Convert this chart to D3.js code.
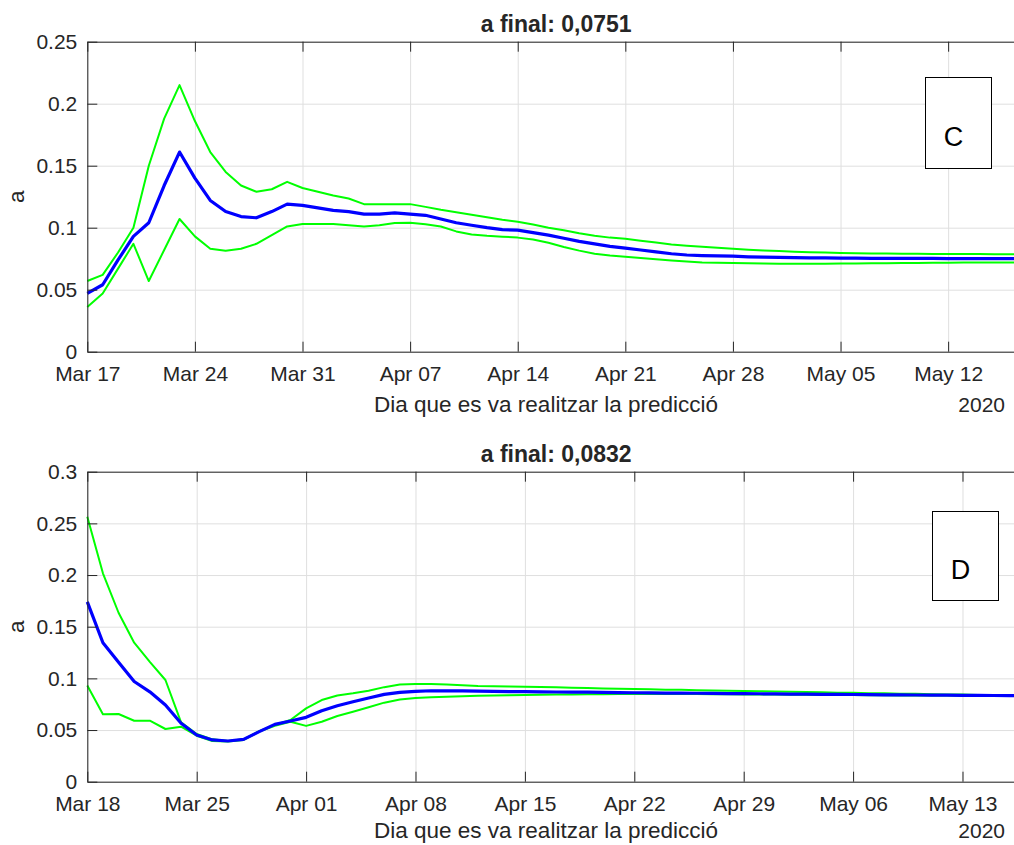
<!DOCTYPE html>
<html>
<head>
<meta charset="utf-8">
<script src="https://cdn.jsdelivr.net/npm/d3@7"></script>
<style>
  body { margin: 0; background: #fff; }
  text { font-family: "Liberation Sans", Arial, Helvetica, sans-serif; fill: #262626; }
</style>
</head>
<body>
<div id="chart"></div>
<script>
// ---- panel C (top) ----
var startC = "2020-03-17";
var endC = "2020-05-17";
var valueC = [0.047,0.054,0.074,0.093,0.104,0.134,0.161,0.140,0.122,0.113,
              0.109,0.108,0.113,0.119,0.118,0.116,0.114,0.113,0.111,0.111,
              0.112,0.111,0.110,0.107,0.104,0.102,0.100,0.0985,0.098,0.096,
              0.094,0.0915,0.089,0.087,0.085,0.0835,0.082,0.0805,0.079,0.078,
              0.0775,0.0772,0.077,0.0765,0.0762,0.076,0.0758,0.0757,0.0756,0.0755,
              0.0754,0.0753,0.0753,0.0752,0.0752,0.0752,0.0751,0.0751,0.0751,0.0751,
              0.0751,0.0751];
var upperC = [0.057,0.062,0.080,0.100,0.150,0.188,0.215,0.186,0.161,0.145,
              0.134,0.129,0.131,0.137,0.132,0.129,0.126,0.1235,0.119,0.119,
              0.119,0.119,0.1168,0.1145,0.1125,0.1105,0.1085,0.1065,0.1048,0.1025,
              0.100,0.098,0.0955,0.0935,0.092,0.091,0.0895,0.088,0.0865,0.0855,
              0.0847,0.0838,0.083,0.0823,0.0817,0.0812,0.0807,0.0803,0.0799,0.0796,
              0.0794,0.0792,0.0791,0.079,0.0789,0.0788,0.0788,0.0787,0.0787,0.0786,
              0.0786,0.0785];
var lowerC = [0.036,0.047,0.067,0.087,0.057,0.082,0.107,0.093,0.083,0.0815,
              0.083,0.087,0.094,0.101,0.103,0.103,0.103,0.102,0.101,0.102,
              0.1038,0.104,0.1028,0.101,0.097,0.0945,0.0935,0.0928,0.092,0.0905,
              0.0878,0.0845,0.0815,0.079,0.0775,0.0765,0.0755,0.0745,0.0735,0.0727,
              0.072,0.0717,0.0715,0.0713,0.0711,0.071,0.071,0.071,0.071,0.0711,
              0.0712,0.0713,0.0714,0.0715,0.0716,0.0717,0.0718,0.0719,0.072,0.072,
              0.072,0.072];
var xTicksC = ["2020-03-17","2020-03-24","2020-03-31","2020-04-07","2020-04-14",
               "2020-04-21","2020-04-28","2020-05-05","2020-05-12"];
var xLabelsC = ["Mar 17","Mar 24","Mar 31","Apr 07","Apr 14","Apr 21","Apr 28","May 05","May 12"];
var yTicksC = [0, 0.05, 0.1, 0.15, 0.2, 0.25];
var yLabelsC = ["0","0.05","0.1","0.15","0.2","0.25"];
var titleC = "a final: 0,0751";

// ---- panel D (bottom) ----
var startD = "2020-03-18";
var endD = "2020-05-17";
var valueD = [0.174,0.1345,0.1155,0.097,0.087,0.0742,0.0565,0.0452,0.0404,0.0394,
              0.041,0.0484,0.0555,0.0587,0.0623,0.0687,0.0735,0.0774,0.081,0.0845,
              0.0865,0.0875,0.088,0.0879,0.0878,0.0876,0.0874,0.0872,0.0871,0.0869,
              0.0868,0.0867,0.0866,0.0864,0.0862,0.0861,0.0859,0.0858,0.0857,0.0856,
              0.0855,0.0853,0.0852,0.0851,0.085,0.0848,0.0847,0.0846,0.0845,0.0844,
              0.0842,0.0841,0.084,0.0839,0.0838,0.0837,0.0836,0.0835,0.0834,0.0833,
              0.0832];
var upperD = [0.2565,0.2017,0.1635,0.1345,0.116,0.0984,0.0575,0.0462,0.041,0.0395,
              0.041,0.049,0.055,0.0597,0.071,0.079,0.0835,0.0855,0.088,0.0915,
              0.094,0.0945,0.0945,0.094,0.0933,0.0926,0.0923,0.0921,0.0919,0.0916,
              0.0913,0.091,0.0907,0.0903,0.090,0.0897,0.0894,0.0891,0.0889,0.0886,
              0.0883,0.0881,0.0878,0.0875,0.0873,0.087,0.0867,0.0865,0.0862,0.086,
              0.0857,0.0855,0.0852,0.085,0.0847,0.0845,0.0843,0.084,0.0838,0.0836,
              0.0834];
var lowerD = [0.093,0.0652,0.0655,0.059,0.059,0.051,0.0532,0.0445,0.0394,0.0388,
              0.0404,0.0484,0.0542,0.0581,0.054,0.058,0.0636,0.0677,0.072,0.0765,
              0.0795,0.081,0.0818,0.0823,0.0828,0.0832,0.0835,0.0837,0.0839,0.0841,
              0.0843,0.0845,0.0846,0.0847,0.0848,0.0849,0.0849,0.0849,0.0849,0.0848,
              0.0847,0.0846,0.0845,0.0844,0.0843,0.0842,0.0841,0.084,0.0839,0.0838,
              0.0837,0.0836,0.0835,0.0834,0.0833,0.0833,0.0832,0.0831,0.0831,0.083,
              0.083];
var xTicksD = ["2020-03-18","2020-03-25","2020-04-01","2020-04-08","2020-04-15",
               "2020-04-22","2020-04-29","2020-05-06","2020-05-13"];
var xLabelsD = ["Mar 18","Mar 25","Apr 01","Apr 08","Apr 15","Apr 22","Apr 29","May 06","May 13"];
var yTicksD = [0, 0.05, 0.1, 0.15, 0.2, 0.25, 0.3];
var yLabelsD = ["0","0.05","0.1","0.15","0.2","0.25","0.3"];
var titleD = "a final: 0,0832";

var xTitle = "Dia que es va realitzar la predicció";
var yTitle = "a";
var yearLabel = "2020";

var svgWidth = 1014;
var svgHeight = 845;
var plotLeft = 87.3;
var plotRight = 1025;   // axes run past the picture edge
var plotHeight = 310;
var chartWidth = plotRight - plotLeft;

var parseDay = d3.utcParse("%Y-%m-%d");

var svg = d3.select("#chart").append("svg")
            .attr("width", svgWidth)
            .attr("height", svgHeight);

function drawPanel(top, start, end, value, upper, lower, xTicks, xLabels, yTicks, yLabels, title, letter, box, xTitleDy) {
  var startDate = parseDay(start);
  var dates = value.map((v, i) => d3.utcDay.offset(startDate, i));
  var tickDates = xTicks.map(parseDay);

  var xScale = d3.scaleUtc()
                 .domain([startDate, parseDay(end)])
                 .range([0, chartWidth]);

  var yScale = d3.scaleLinear()
                 .domain([yTicks[0], yTicks[yTicks.length - 1]])
                 .range([plotHeight, 0]);

  var g = svg.append("g")
             .attr("transform", `translate(${plotLeft}, ${top})`);

  // grid
  var xGrid = g.append("g")
               .attr("transform", `translate(0, ${plotHeight})`)
               .call(d3.axisBottom(xScale).tickValues(tickDates).tickSize(-plotHeight).tickFormat(""));
  var yGrid = g.append("g")
               .call(d3.axisLeft(yScale).tickValues(yTicks).tickSize(-chartWidth).tickFormat(""));
  [xGrid, yGrid].forEach(s => {
    s.select(".domain").remove();
    s.selectAll("line").attr("stroke", "#dfdfdf").attr("stroke-width", 1);
  });

  // series
  var line = d3.line()
               .x((d, i) => xScale(dates[i]))
               .y(d => yScale(d));

  [upper, lower].forEach(s => {
    g.append("path")
     .datum(s)
     .attr("fill", "none")
     .attr("stroke", "#00ff00")
     .attr("stroke-width", 2)
     .attr("stroke-linejoin", "round")
     .attr("d", line);
  });

  g.append("path")
   .datum(value)
   .attr("fill", "none")
   .attr("stroke", "#0000ff")
   .attr("stroke-width", 3.2)
   .attr("stroke-linejoin", "round")
   .attr("d", line);

  // axes
  var bottomAxis = g.append("g")
                    .attr("transform", `translate(0, ${plotHeight})`)
                    .call(d3.axisBottom(xScale).tickValues(tickDates)
                            .tickFormat((d, i) => xLabels[i])
                            .tickSizeInner(-10).tickSizeOuter(0).tickPadding(14));
  var topAxis = g.append("g")
                 .call(d3.axisTop(xScale).tickValues(tickDates).tickFormat("")
                         .tickSizeInner(-10).tickSizeOuter(0));
  var leftAxis = g.append("g")
                  .call(d3.axisLeft(yScale).tickValues(yTicks)
                          .tickFormat((d, i) => yLabels[i])
                          .tickSizeInner(-10).tickSizeOuter(0).tickPadding(10));

  [bottomAxis, topAxis, leftAxis].forEach(a => {
    a.select(".domain").attr("stroke", "#262626");
    a.selectAll(".tick line").attr("stroke", "#262626");
    a.selectAll("text")
     .style("font-size", "21px")
     .attr("fill", "#262626");
  });

  g.append("text")
   .attr("x", (plotRight - plotLeft) / 2)
   .attr("y", -10)
   .attr("text-anchor", "middle")
   .style("font-size", "23px")
   .style("font-weight", "bold")
   .text(title);

  g.append("text")
   .attr("x", 546 - plotLeft)
   .attr("y", plotHeight + xTitleDy)
   .attr("text-anchor", "middle")
   .style("font-size", "22.5px")
   .text(xTitle);

  g.append("text")
   .attr("x", 1005 - plotLeft)
   .attr("y", plotHeight + xTitleDy)
   .attr("text-anchor", "end")
   .style("font-size", "21px")
   .text(yearLabel);

  g.append("text")
   .attr("transform", `translate(${24 - plotLeft}, ${plotHeight / 2}) rotate(-90)`)
   .attr("text-anchor", "middle")
   .style("font-size", "22.5px")
   .text(yTitle);

  // letter box
  svg.append("rect")
     .attr("x", box[0]).attr("y", box[1])
     .attr("width", box[2]).attr("height", box[3])
     .attr("fill", "#fff")
     .attr("stroke", "#000")
     .attr("stroke-width", 1);
  svg.append("text")
     .attr("x", box[0] + box[2] / 2 - 5)
     .attr("y", box[1] + box[3] / 2 + 13)
     .attr("dy", "0.36em")
     .attr("text-anchor", "middle")
     .style("font-size", "27px")
     .style("fill", "#000")
     .text(letter);
}

drawPanel(41.7, startC, endC, valueC, upperC, lowerC, xTicksC, xLabelsC, yTicksC, yLabelsC, titleC, "C", [925.5, 77.5, 66, 91], 60);
drawPanel(471.7, startD, endD, valueD, upperD, lowerD, xTicksD, xLabelsD, yTicksD, yLabelsD, titleD, "D", [932.5, 511.5, 66, 89], 56);
</script>
</body>
</html>
